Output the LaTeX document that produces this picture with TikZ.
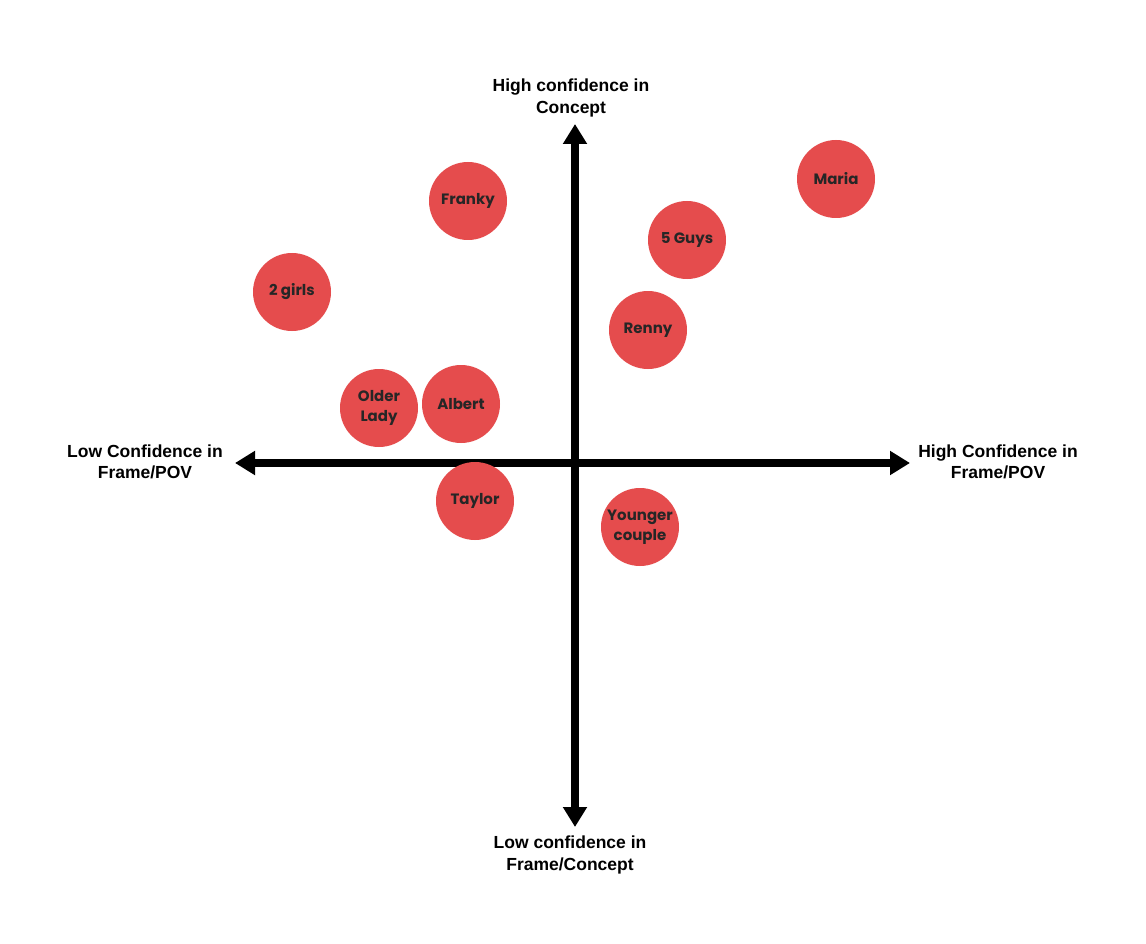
\documentclass[tikz,border=0pt]{standalone}
\usepackage{fontspec}
\setmainfont{Liberation Sans}
\newfontfamily\dotfont{Poppins}
\usetikzlibrary{arrows.meta, positioning}
\definecolor{dotred}{HTML}{E54C4D}

\begin{document}
\begin{tikzpicture}[x=1pt, y=-1pt,
  axis/.style={line width=8pt, -{Triangle[length=20pt,width=23pt]}},
  axlabel/.style={font=\bfseries\fontsize{17.5}{21.5}\selectfont, align=center},
  person/.style={circle, fill=dotred, minimum size=78pt, inner sep=0pt, align=center,
    font=\dotfont\bfseries\fontsize{15}{20}\selectfont, text=black!85}]
\fill[white] (0,0) rectangle (1146,944);

% axes
\coordinate (orig) at (575,463);
\coordinate (top) at (575,124);
\coordinate (bottom) at (575,827);
\coordinate (left) at (235,463);
\coordinate (right) at (910,463);
\draw[axis] (orig) -- (top);
\draw[axis] (orig) -- (bottom);
\draw[axis] (orig) -- (left);
\draw[axis] (orig) -- (right);

\node[axlabel] (conhi) at (571,98) {High confidence in\\Concept};
\node[axlabel] (conlo) at (570,855) {Low confidence in\\Frame/Concept};
\node[axlabel] (povlo) at (145,462) {Low Confidence in\\Frame/POV};
\node[axlabel] (povhi) at (998,462) {High Confidence in\\Frame/POV};

% people
\node[person] (franky) at (468,201) {Franky};
\node[person] (maria) at (836,179) {Maria};
\node[person] (guys) at (687,240) {5 Guys};
\node[person] (girls) at (292,292) {2 girls};
\node[person] (renny) at (648,330) {Renny};
\node[person] (lady) at (379,408) {Older\\Lady};
\node[person] (albert) at (461,404) {Albert};
\node[person] (taylor) at (475,501) {Taylor};
\node[person] (couple) at (640,527) {Younger\\couple};
\end{tikzpicture}
\end{document}
